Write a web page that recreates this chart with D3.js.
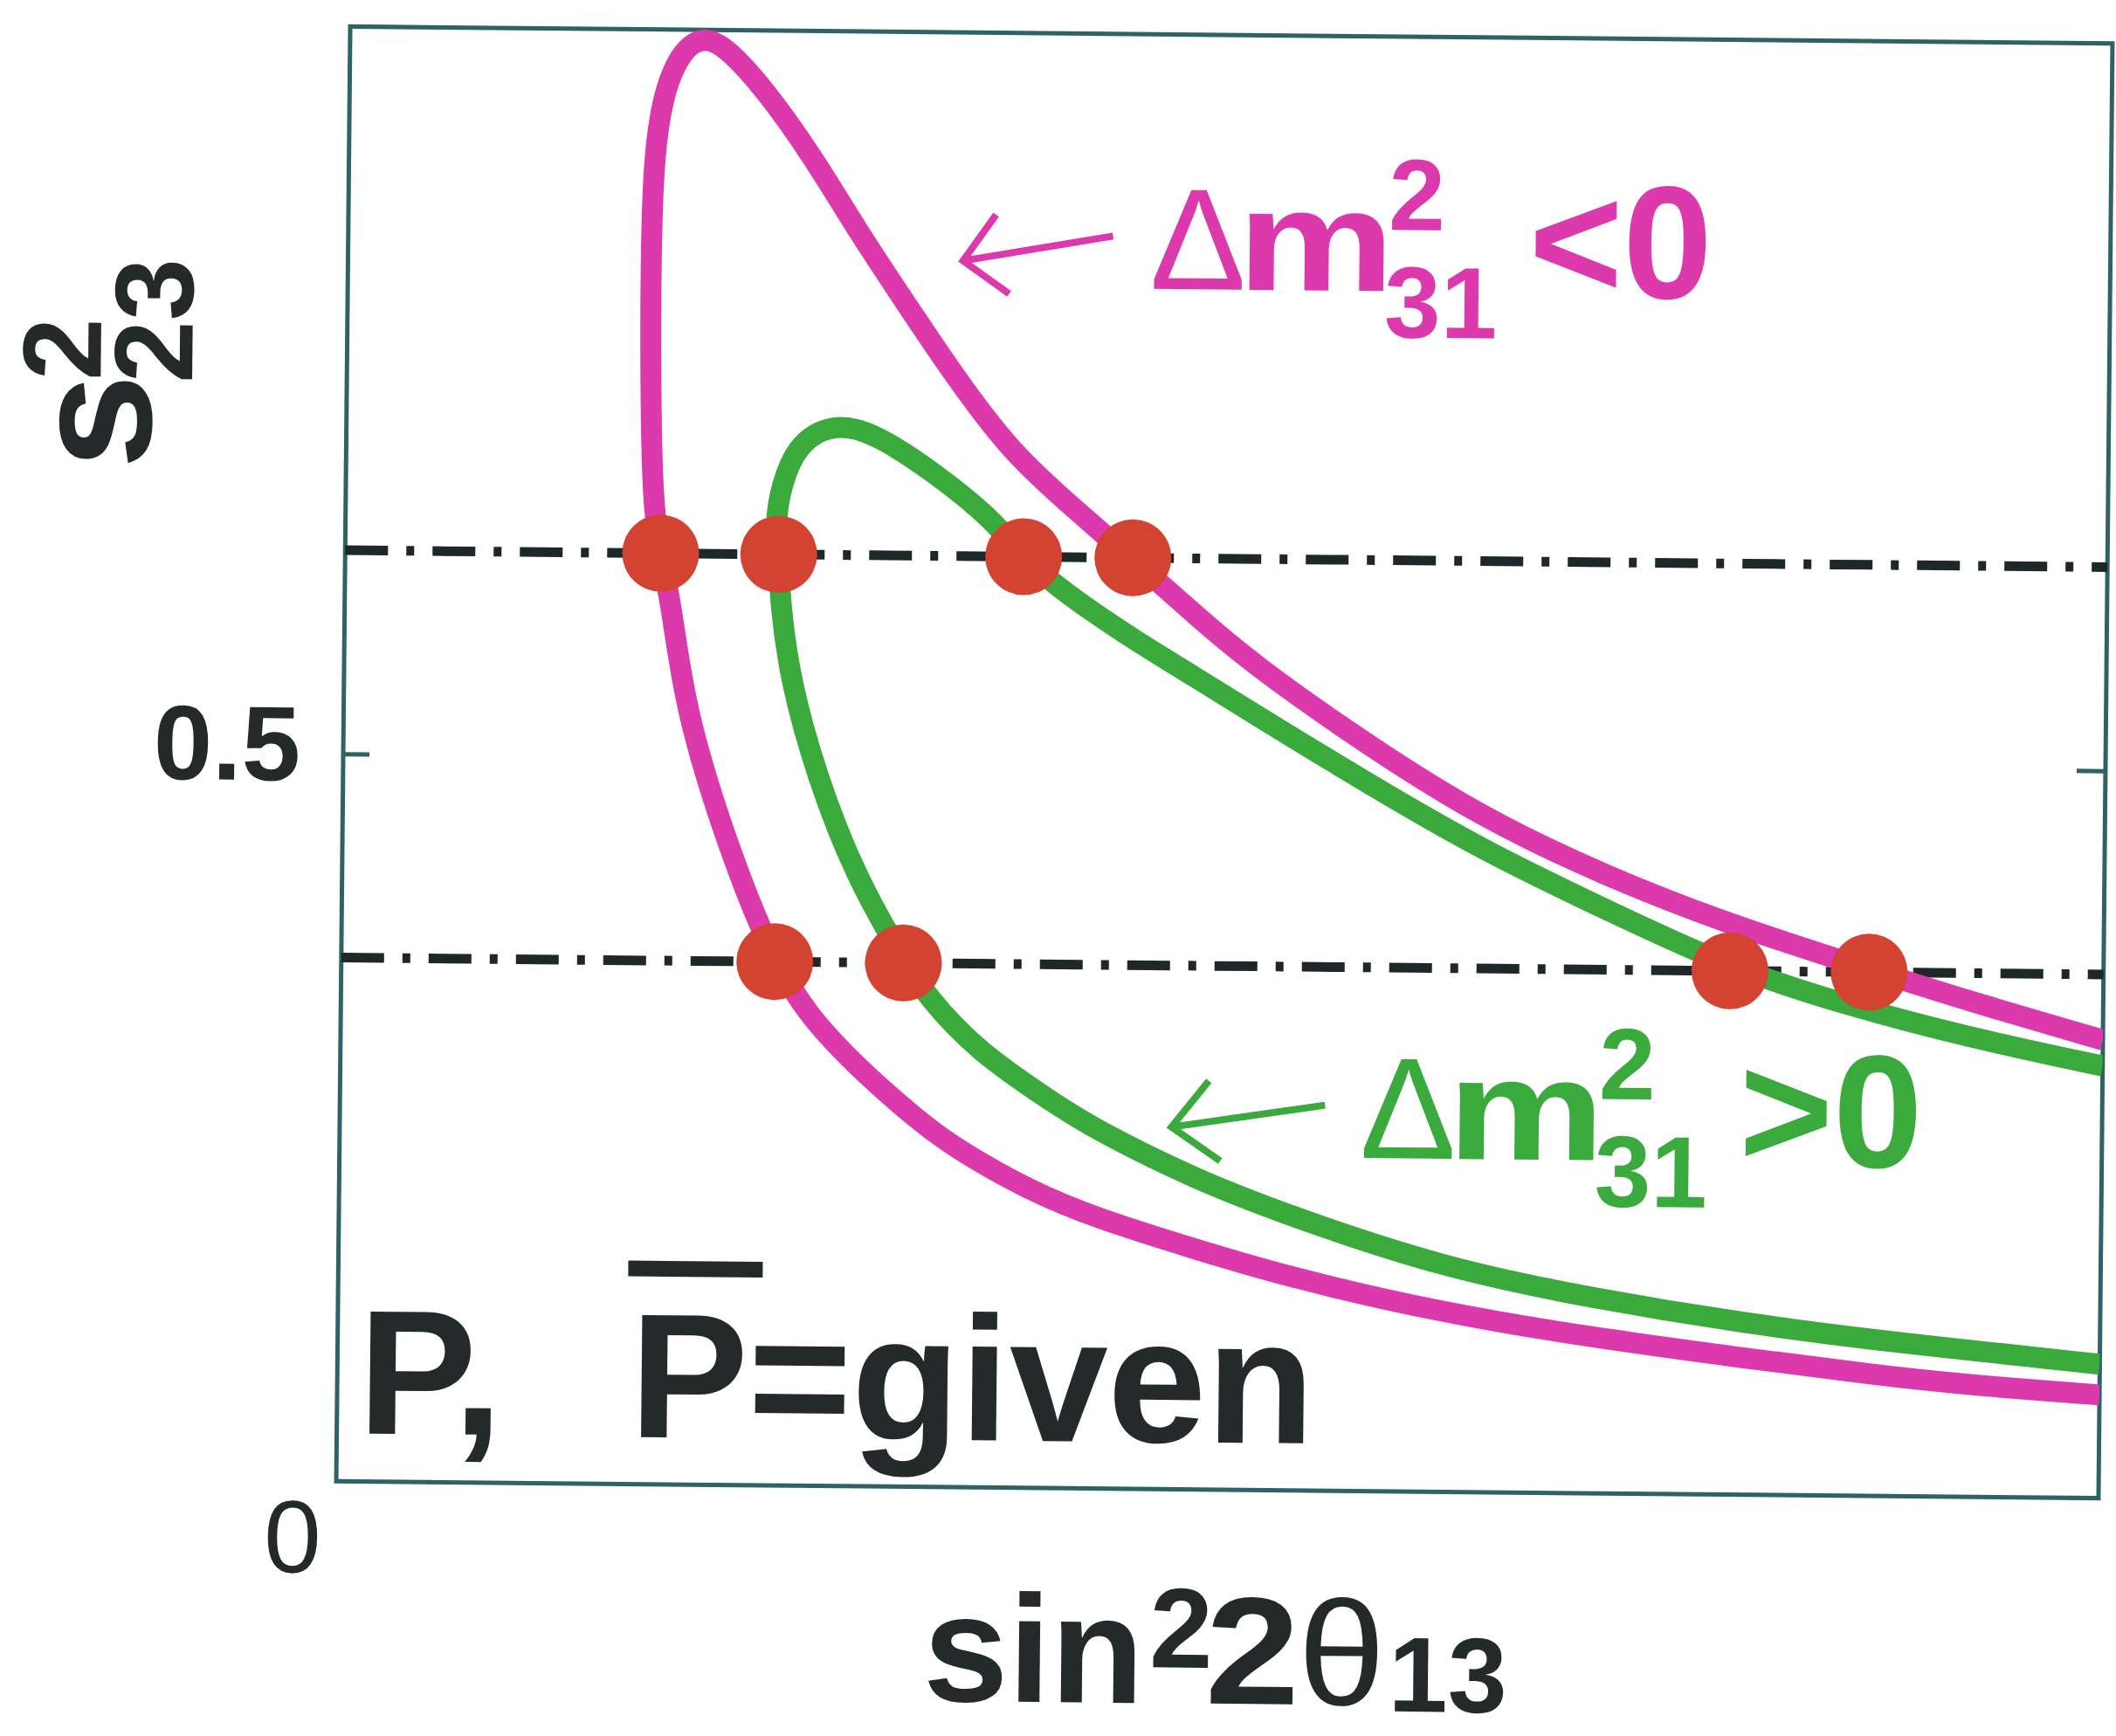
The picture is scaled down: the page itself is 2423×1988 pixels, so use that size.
<!DOCTYPE html>
<html>
<head>
<meta charset="utf-8">
<script src="https://cdn.jsdelivr.net/npm/d3@7"></script>
<style>
    html, body { margin: 0; padding: 0; background: #ffffff; }
    svg text { font-family: "Liberation Sans", Arial, Helvetica, sans-serif; }
</style>
</head>
<body>
<svg id="chart" width="2423" height="1988"></svg>
<script>
"use strict";

// x = sin^2 2theta13 (no tick values on the original, 0..1 = left..right edge), y = s23^2
var invertedX = [1.000, 0.923, 0.867, 0.782, 0.716, 0.649, 0.582, 0.515, 0.482, 0.462, 0.447, 0.433, 0.411, 0.377,
    0.344, 0.317, 0.290, 0.263, 0.236, 0.214, 0.200, 0.188, 0.179, 0.174, 0.172, 0.172, 0.174, 0.179, 0.185, 0.193,
    0.209, 0.232, 0.246, 0.263, 0.295, 0.328, 0.348, 0.392, 0.432, 0.484, 0.541, 0.627, 0.712, 0.798, 0.874, 0.925, 1.000];
var invertedY = [0.315, 0.341, 0.362, 0.394, 0.425, 0.462, 0.512, 0.568, 0.602, 0.623, 0.639, 0.653, 0.676, 0.712,
    0.765, 0.813, 0.861, 0.914, 0.959, 0.988, 0.996, 0.985, 0.960, 0.924, 0.876, 0.779, 0.672, 0.639, 0.607, 0.540,
    0.473, 0.398, 0.362, 0.326, 0.286, 0.252, 0.234, 0.204, 0.185, 0.166, 0.146, 0.123, 0.107, 0.094, 0.083, 0.077, 0.071];

var normalX = [1.000, 0.923, 0.855, 0.788, 0.716, 0.649, 0.582, 0.516, 0.482, 0.449, 0.425, 0.405, 0.385, 0.367,
    0.333, 0.300, 0.276, 0.255, 0.247, 0.244, 0.246, 0.247, 0.253, 0.269, 0.291, 0.319, 0.332, 0.361, 0.406, 0.427,
    0.484, 0.541, 0.627, 0.712, 0.797, 0.874, 0.925, 1.000];
var normalY = [0.297, 0.316, 0.337, 0.362, 0.402, 0.440, 0.486, 0.534, 0.559, 0.583, 0.602, 0.619, 0.639, 0.666,
    0.698, 0.724, 0.731, 0.715, 0.686, 0.665, 0.638, 0.608, 0.554, 0.487, 0.420, 0.362, 0.338, 0.300, 0.264, 0.248,
    0.214, 0.188, 0.154, 0.134, 0.118, 0.107, 0.101, 0.092];

var levels = [0.36, 0.64];
var solutionX = [0.179, 0.246, 0.385, 0.447, 0.246, 0.319, 0.788, 0.867];
var solutionY = [0.64, 0.64, 0.64, 0.64, 0.36, 0.36, 0.36, 0.36];
var yTicks = [0.5];
var xTicks = [0];

var magenta = '#db39ac', green = '#3aaa3c', red = '#d24331', ink = '#242a2a', frameColor = '#2f6262';
var frame = {left: 393, top: 40, right: 2411, bottom: 1706};
var tilt = 0.55; // the scanned figure sits slightly rotated

var svg = d3.select('#chart');
var root = svg.append('g').attr('transform', 'rotate(' + tilt + ',1402,873)');

var x = d3.scaleLinear().domain([0, 1]).range([frame.left, frame.right]);
var y = d3.scaleLinear().domain([0, 1]).range([frame.bottom, frame.top]);

svg.append('defs').append('clipPath').attr('id', 'plotclip')
    .append('rect').attr('x', frame.left).attr('y', 0)
    .attr('width', frame.right - frame.left).attr('height', frame.bottom);

// box
root.append('rect')
    .attr('x', frame.left).attr('y', frame.top)
    .attr('width', frame.right - frame.left).attr('height', frame.bottom - frame.top)
    .attr('fill', 'none').attr('stroke', frameColor).attr('stroke-width', 5);

// axes
var left = root.append('g').attr('transform', 'translate(' + frame.left + ',0)')
    .call(d3.axisLeft(y).tickValues(yTicks).tickSizeInner(-30).tickSizeOuter(0).tickPadding(49).tickFormat(d3.format('.1f')));
var right = root.append('g').attr('transform', 'translate(' + frame.right + ',0)')
    .call(d3.axisRight(y).tickValues(yTicks).tickSizeInner(-33).tickSizeOuter(0).tickFormat(''));
var bottom = root.append('g').attr('transform', 'translate(0,' + frame.bottom + ')')
    .call(d3.axisBottom(x).tickValues(xTicks).tickSize(0).tickPadding(21).tickFormat(d3.format('d')));

[left, right, bottom].forEach(function(axis) {
    axis.select('.domain').remove();
    axis.selectAll('line').attr('stroke', frameColor).attr('stroke-width', 5);
    axis.selectAll('text').attr('fill', ink).style('font-family', '"Liberation Sans", Arial, sans-serif');
});
left.selectAll('text').attr('font-size', 121).attr('font-weight', 'bold').attr('dy', '0.25em');
bottom.selectAll('text').attr('font-size', 118).attr('font-weight', 'normal').attr('dx', -50);

// the two dash-dot levels
root.append('g').selectAll('line').data(levels).enter().append('line')
    .attr('x1', x(0)).attr('x2', x(1))
    .attr('y1', function(d) { return y(d); }).attr('y2', function(d) { return y(d); })
    .attr('stroke', '#1e2828').attr('stroke-width', 11).attr('stroke-dasharray', '49,21,9,21');

// curves
var line = d3.line()
    .x(function(d) { return x(d[0]); })
    .y(function(d) { return y(d[1]); })
    .curve(d3.curveBasis);

var curves = root.append('g').attr('clip-path', 'url(#plotclip)');
curves.append('path').datum(d3.zip(invertedX, invertedY))
    .attr('d', line).attr('fill', 'none').attr('stroke', magenta).attr('stroke-width', 24);
curves.append('path').datum(d3.zip(normalX, normalY))
    .attr('d', line).attr('fill', 'none').attr('stroke', green).attr('stroke-width', 24);

// degenerate solutions
root.append('g').selectAll('circle').data(d3.zip(solutionX, solutionY)).enter().append('circle')
    .attr('cx', function(d) { return x(d[0]); })
    .attr('cy', function(d) { return y(d[1]); })
    .attr('r', 44)
    .attr('fill', red);

// arrows and hierarchy labels
function arrow(tip, tail, color, len, spread) {
    var x1 = x(tip[0]), y1 = y(tip[1]), x2 = x(tail[0]), y2 = y(tail[1]);
    var a = Math.atan2(y2 - y1, x2 - x1);
    var p = d3.path();
    p.moveTo(x2, y2);
    p.lineTo(x1, y1);
    p.moveTo(x1 + len * Math.cos(a - spread), y1 + len * Math.sin(a - spread));
    p.lineTo(x1, y1);
    p.lineTo(x1 + len * Math.cos(a + spread), y1 + len * Math.sin(a + spread));
    root.append('path').attr('d', p.toString())
        .attr('fill', 'none').attr('stroke', color).attr('stroke-width', 8).attr('stroke-linejoin', 'miter');
}

function massLabel(anchor, rel, color) {
    var ax = x(anchor[0]), ay = y(anchor[1]);
    var t = root.append('g').attr('fill', color).attr('font-weight', 'bold');
    t.append('text').attr('x', ax).attr('y', ay).attr('font-size', 165).attr('font-weight', 'normal').text('\u0394');
    t.append('text').attr('x', ax + 100).attr('y', ay).attr('font-size', 165)
        .attr('textLength', 180).attr('lengthAdjust', 'spacingAndGlyphs').text('m');
    t.append('text').attr('x', ax + 273).attr('y', ay - 70).attr('font-size', 116).text('2');
    t.append('text').attr('x', ax + 269).attr('y', ay + 53).attr('font-size', 116).text('31');
    t.append('text').attr('x', ax + 434).attr('y', ay + 5).attr('font-size', 184).text(rel);
}

arrow([0.349, 0.843], [0.434, 0.861], magenta, 65, Math.PI / 4);
massLabel([0.455, 0.825], '<0', magenta);
arrow([0.472, 0.249], [0.559, 0.265], green, 68, 0.75);
massLabel([0.579, 0.229], '>0', green);

// "P, P-bar = given"
var note = root.append('g').attr('fill', ink).attr('font-weight', 'bold').attr('font-size', 203);
note.append('text').attr('x', 417).attr('y', 1651).text('P,');
note.append('text').attr('x', 728).attr('y', 1652).text('P=given');
note.append('line').attr('x1', 725).attr('x2', 879).attr('y1', 1459).attr('y2', 1459)
    .attr('stroke', ink).attr('stroke-width', 18);

// axis titles
var xt = root.append('g').attr('fill', ink).attr('font-weight', 'bold');
xt.append('text').attr('x', 1067).attr('y', 1951).attr('font-size', 175).text('sin');
xt.append('text').attr('x', 1326).attr('y', 1910).attr('font-size', 130).text('2');
xt.append('text').attr('x', 1390).attr('y', 1951).attr('font-size', 175)
    .attr('textLength', 108).attr('lengthAdjust', 'spacingAndGlyphs').text('2');
xt.append('text').attr('x', 1496).attr('y', 1951).attr('font-size', 170).attr('font-weight', 'normal')
    .attr('textLength', 100).attr('lengthAdjust', 'spacingAndGlyphs').text('\u03b8');
xt.append('text').attr('x', 1600).attr('y', 1958).attr('font-size', 122).text('13');

var yt = root.append('g').attr('fill', ink).attr('font-weight', 'bold');
yt.append('text').attr('transform', 'translate(169,549) rotate(-90)').attr('font-size', 195).text('s');
yt.append('text').attr('transform', 'translate(111,448) rotate(-90)').attr('font-size', 128).text('2');
yt.append('text').attr('transform', 'translate(216,450) rotate(-90)').attr('font-size', 128).text('23');
</script>
</body>
</html>
